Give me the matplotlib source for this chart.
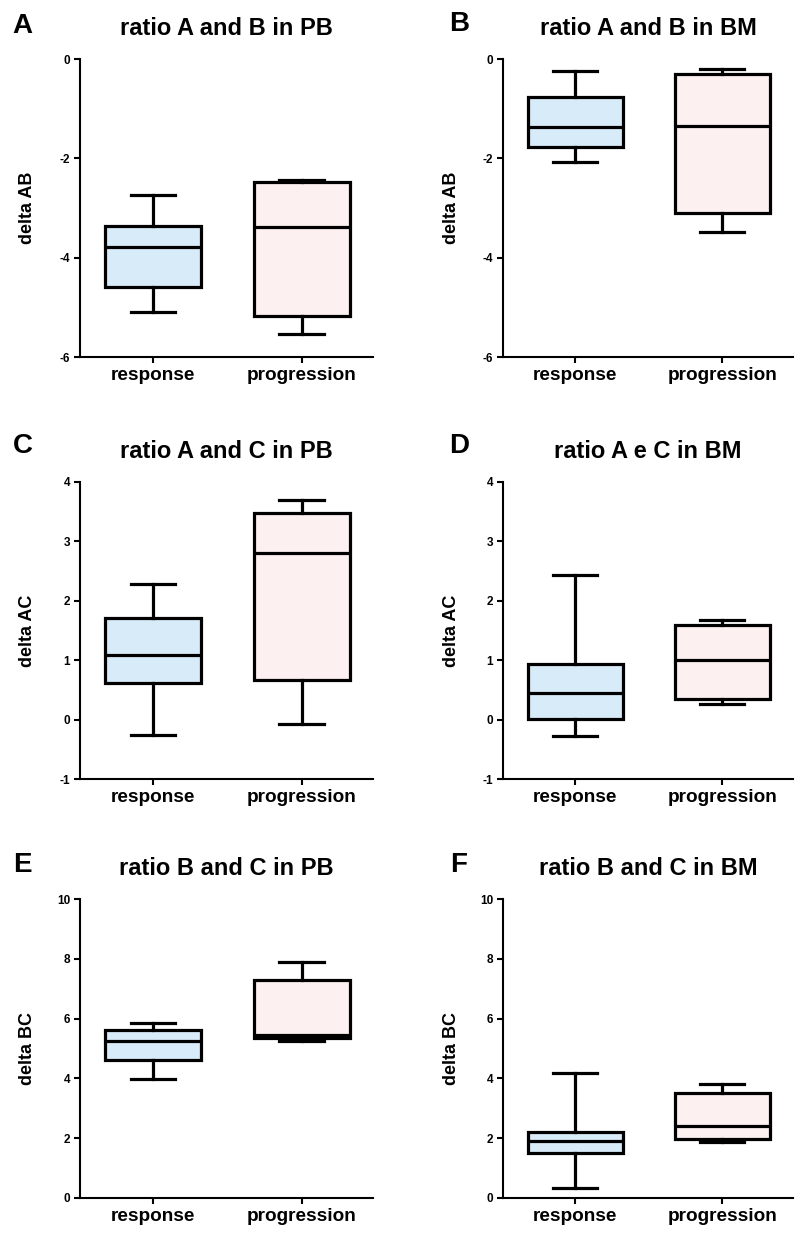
import numpy as np
import matplotlib
matplotlib.use('Agg')
import matplotlib.pyplot as plt

plt.rcParams['font.family'] = ['Liberation Sans', 'DejaVu Sans']
plt.rcParams['font.weight'] = 'bold'
plt.rcParams['axes.unicode_minus'] = False

groups = ['response', 'progression']
letters = ['A', 'B', 'C', 'D', 'E', 'F']
titles = ['ratio A and B in PB', 'ratio A and B in BM',
          'ratio A and C in PB', 'ratio A e C in BM',
          'ratio B and C in PB', 'ratio B and C in BM']
ylabels = ['delta AB', 'delta AB', 'delta AC', 'delta AC', 'delta BC', 'delta BC']
ylims = [(-6, 0), (-6, 0), (-1, 4), (-1, 4), (0, 10), (0, 10)]
yticks = [[-6, -4, -2, 0], [-6, -4, -2, 0],
          [-1, 0, 1, 2, 3, 4], [-1, 0, 1, 2, 3, 4],
          [0, 2, 4, 6, 8, 10], [0, 2, 4, 6, 8, 10]]

# box stats per panel: [whislo, q1, med, q3, whishi] for response / progression
response_stats = [
    [-5.10, -4.60, -3.78, -3.37, -2.73],
    [-2.07, -1.78, -1.37, -0.76, -0.24],
    [-0.26, 0.62, 1.09, 1.71, 2.29],
    [-0.27, 0.01, 0.44, 0.93, 2.43],
    [3.98, 4.63, 5.24, 5.61, 5.85],
    [0.32, 1.52, 1.90, 2.20, 4.19],
]
progression_stats = [
    [-5.53, -5.17, -3.39, -2.47, -2.43],
    [-3.49, -3.10, -1.34, -0.30, -0.20],
    [-0.07, 0.66, 2.80, 3.48, 3.70],
    [0.26, 0.35, 1.01, 1.59, 1.67],
    [5.25, 5.34, 5.46, 7.30, 7.89],
    [1.88, 1.98, 2.42, 3.51, 3.81],
]
fill_colors = ['#d8ebf8', '#fcf0f0']

W, H = 800, 1234
fig = plt.figure(figsize=(W / 100, H / 100), dpi=100)

# axes boxes in pixels: left, top, right, bottom
boxes = [
    (80, 59, 373, 357), (503, 59, 793, 357),
    (80, 482, 373, 779), (503, 482, 793, 779),
    (80, 899, 373, 1198), (503, 899, 793, 1198),
]
# panel letter positions (pixels, left / baseline)
letter_pos = [(12, 33), (449, 31), (13, 453), (449, 453), (13, 872), (450, 872)]

for i in range(6):
    l, t, r, b = boxes[i]
    ax = fig.add_axes([l / W, 1 - b / H, (r - l) / W, (b - t) / H])
    stats = []
    for s, g in zip([response_stats[i], progression_stats[i]], groups):
        stats.append(dict(whislo=s[0], q1=s[1], med=s[2], q3=s[3], whishi=s[4],
                          fliers=[], label=g))
    bp = ax.bxp(stats, positions=[0, 1], widths=0.645, patch_artist=True,
                showfliers=False,
                boxprops=dict(linewidth=2.3, edgecolor='black'),
                medianprops=dict(linewidth=2.3, color='black'),
                whiskerprops=dict(linewidth=2.3, color='black'),
                capprops=dict(linewidth=2.3, color='black'),
                capwidths=0.3)
    for patch, c in zip(bp['boxes'], fill_colors):
        patch.set_facecolor(c)
    ax.set_xlim(-0.49, 1.48)
    ax.set_ylim(*ylims[i])
    ax.set_yticks(yticks[i])
    ax.set_xticks([0, 1])
    ax.set_xticklabels(groups, fontsize=13.7, fontweight='bold')
    for lab in ax.get_yticklabels():
        lab.set_fontsize(8.5)
        lab.set_fontweight('bold')
    ax.spines['top'].set_visible(False)
    ax.spines['right'].set_visible(False)
    ax.spines['left'].set_linewidth(1.5)
    ax.spines['bottom'].set_linewidth(1.5)
    ax.tick_params(axis='both', width=1.5, length=4, direction='out')
    ax.tick_params(axis='x', pad=3)
    ax.tick_params(axis='y', pad=3)
    ax.set_ylabel(ylabels[i], fontsize=13, fontweight='bold')
    ax.yaxis.set_label_coords(-0.15, 0.5)
    ax.set_title(titles[i], fontsize=17, fontweight='bold', pad=17)
    lx, ly = letter_pos[i]
    fig.text(lx / W, 1 - ly / H, letters[i], fontsize=20,
             fontweight='bold', ha='left', va='baseline')

fig.savefig('out.png', dpi=100)
